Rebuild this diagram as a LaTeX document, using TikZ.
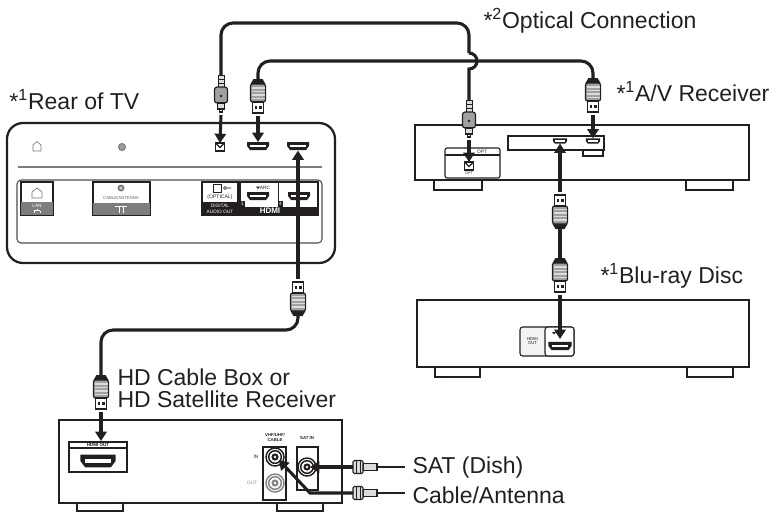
\documentclass[tikz,border=0pt]{standalone}
\usepackage{fontspec}
\setmainfont{Liberation Sans}
\usetikzlibrary{arrows.meta,calc}

\definecolor{ink}{RGB}{35,31,32}
\definecolor{plugfill}{RGB}{160,160,160}
\definecolor{pluglight}{RGB}{220,220,220}
\definecolor{panelgray}{RGB}{125,125,125}

\tikzset{every picture/.style={line width=0.75pt}}
\tikzset{
  flipy/.style={yscale=-1},
  cable/.style={draw=ink, line width=2.3pt},
  plugarrow/.style={draw=ink, line width=2.3pt, -{Triangle[length=7pt,width=8.5pt]}},
  unitbox/.style={draw=ink, line width=1.7pt, fill=white},
  thinbox/.style={draw=ink, line width=0.8pt},
  biglabel/.style={font=\fontsize{17.25}{20}\selectfont, anchor=base west, inner sep=0pt, text=ink},
  tinylabel/.style={font=\fontsize{3.6}{4}\selectfont, inner sep=0pt, text=ink},
  % plug with its tip towards +y, origin at the cable end
  hdmiplug/.pic={
    \fill[ink] (-4.5,0) -- (4.5,0) -- (7.5,5) -- (-7.5,5) -- cycle;
    \draw[ink, line width=0.9pt, fill=plugfill, rounded corners=1.5] (-7.5,5) rectangle (7.5,23);
    \foreach \yy in {9,12.5,16,19.5}
      \draw[pluglight, line width=0.9pt] (-6.5,\yy) -- (6.5,\yy);
    \draw[ink, line width=0.9pt, fill=white] (-5.5,23) rectangle (5.5,34);
    \fill[ink] (-3.5,27) rectangle (-1,30);
    \fill[ink] (1,27) rectangle (3.5,30);
  },
  optplug/.pic={
    \draw[ink, line width=0.7pt, fill=pluglight] (-3,0) rectangle (3,12);
    \draw[ink, line width=0.5pt] (-3,4) -- (3,4) (-3,8) -- (3,8);
    \draw[ink, line width=0.9pt, fill=plugfill, rounded corners=2] (-6.5,12) rectangle (6.5,28);
    \fill[ink] (0,21) circle (1.3);
    \draw[ink, line width=0.8pt, fill=pluglight] (-3.5,28) rectangle (3.5,34);
    \draw[ink, line width=0.8pt, fill=white] (-1.8,34) rectangle (1.8,37);
  },
  % coax plug pointing to -x, origin at the cable end
  coaxplug/.pic={
    \draw[ink, line width=0.8pt, fill=pluglight] (-14,-3.5) rectangle (0,3.5);
    \draw[ink, line width=0.8pt, fill=pluglight, rounded corners=1] (-24,-6.5) rectangle (-14,6.5);
    \draw[ink, line width=0.5pt] (-21,-6.5) -- (-21,6.5) (-17,-6.5) -- (-17,6.5);
  },
  hdmiport/.pic={
    \fill[ink] (-11,-4) -- (11,-4) -- (11,0) -- (8,4) -- (-8,4) -- (-11,0) -- cycle;
    \fill[white] (-8,-1) rectangle (8,1);
  },
  optport/.pic={
    \draw[ink, line width=0.9pt, fill=white] (-4.5,-4) rectangle (4.5,4);
    \draw[ink, line width=0.9pt] (-4.5,-4) -- (0,0.5) -- (4.5,-4);
  },
  coaxport/.pic={
    \draw[line width=1.1pt, fill=white] (0,0) circle (9);
    \draw[line width=1.1pt] (0,0) circle (6.3);
    \fill (0,0) circle (3.6);
    \fill[white] (0,0) circle (1.3);
  }
}

\begin{document}
\begin{tikzpicture}[x=0.75pt,y=0.75pt,yscale=-1,xscale=1]
\path[use as bounding box] (0,0) rectangle (777,512);

%Shape: TV [id:tv]
\draw[unitbox, rounded corners=12] (7,123) rectangle (335,263);
\draw[panelgray, line width=2pt] (18,167) -- (322,167);
\draw[thinbox, draw=ink!80, rounded corners=3] (17,180) rectangle (322,243);
% top row of the TV
\draw[ink!60, line width=0.5pt] (33,151) -- (33,145) -- (37,141.5) -- (41,145) -- (41,151) -- cycle;
\draw[fill=ink!45, draw=ink!60] (122,147) circle (3.5);
\pic[flipy] at (220,147) {optport};
\pic[flipy] at (258,146) {hdmiport};
\pic[flipy] at (298,146) {hdmiport};
% LAN
\draw[thinbox, fill=white] (21,182) rectangle (53,215);
\fill[panelgray] (21.4,202) rectangle (52.6,214.6);
\draw[ink!60, line width=0.5pt] (32,198) -- (32,192) -- (37,188) -- (42,192) -- (42,198) -- cycle;
\node[tinylabel, text=white] (lanlbl) at (37,205.5) {LAN};
\draw[white, line width=0.4pt] (37,208.5) -- (37,210.5) (34,210.5) -- (40,210.5) (34,210.5) -- (34,213) (40,210.5) -- (40,213);
% CABLE/ANTENNA
\draw[thinbox, fill=white] (93,182) rectangle (150,215);
\fill[panelgray] (93.4,203) rectangle (149.6,214.6);
\draw[fill=ink!50, draw=ink!70, line width=0.5pt] (121,188) circle (3);
\fill[white] (121,188) circle (1);
\node[tinylabel, text=ink!70, font=\fontsize{3.2}{4}\selectfont] (catvlbl) at (121,197.5) {CABLE/ANTENNA};
\draw[white, line width=0.6pt] (115,206.5) -- (127,206.5) (119,206.5) -- (119,213) (123,206.5) -- (123,213);
% DIGITAL AUDIO OUT
\draw[thinbox, fill=white] (202,182) rectangle (238,215);
\fill[ink] (202,202) rectangle (238,215);
\draw[ink, line width=0.6pt] (213,184) rectangle (221,192);
\draw[ink, line width=0.4pt] (225,188) circle (1.6) (226.6,188) -- (231,188);
\node[tinylabel, font=\fontsize{3.8}{4}\selectfont] (optlbl) at (220,197) {(OPTICAL)};
\node[tinylabel, text=white, font=\fontsize{3.6}{4}\selectfont] (diglbl) at (220,206) {DIGITAL};
\node[tinylabel, text=white, font=\fontsize{3.6}{4}\selectfont] (audlbl) at (220,211.5) {AUDIO OUT};
% HDMI
\draw[thinbox, fill=white] (240,182) rectangle (318,215);
\fill[ink] (240,207) rectangle (318,215);
\draw[ink, line width=0.6pt] (278,182) -- (278,207);
\fill[ink] (240,201) rectangle (245,207);
\fill[ink] (278,201) rectangle (283,207);
\node[tinylabel, text=white] (hdmione) at (242.5,204) {1};
\node[tinylabel, text=white] (hdmifour) at (280.5,204) {4};
\pic[flipy] at (258,196) {hdmiport};
\pic[flipy] at (299,196) {hdmiport};
\fill[ink] (256,186.5) -- (260,186.5) -- (258,189) -- cycle;
\node[tinylabel] (arclbl) at (265,187.6) {ARC};
\node[tinylabel, text=white, font=\bfseries\fontsize{6}{6}\selectfont] (hdmilogo) at (270,211.2) {HDMI};

%Shape: A/V Receiver [id:avr]
\draw[unitbox] (434,176) rectangle (482,190);
\draw[unitbox] (686,176) rectangle (733,190);
\draw[unitbox] (415,125) rectangle (749,180);
\draw[thinbox, rounded corners=1.5] (445,148) rectangle (500,178);
\draw[thinbox] (445,155) -- (500,155);
\node[tinylabel] (avropthead) at (482,151.5) {OPT};
\pic[flipy] at (469,166) {optport};
\node[tinylabel, font=\fontsize{2.8}{3}\selectfont] (avroptlbl) at (469,173.5) {OPT};
\draw[thinbox] (508,136) rectangle (604,150);
\pic[flipy, scale=0.65] at (560,141) {hdmiport};
\pic[flipy, scale=0.65] at (593,141) {hdmiport};
\draw[thinbox] (583,150) rectangle (603,156);

%Shape: Blu-ray Disc [id:bd]
\draw[unitbox] (435,363) rectangle (480,377);
\draw[unitbox] (687,363) rectangle (733,377);
\draw[unitbox] (417,300) rectangle (749,367);
\draw[thinbox, fill=ink!6, rounded corners=2] (520,327) rectangle (574,356);
\draw[thinbox, fill=white, rounded corners=2] (545,327) rectangle (574,356);
\node[tinylabel, align=center, font=\fontsize{3.2}{3.6}\selectfont] (bdhdmilbl) at (532.5,341) {HDMI\\OUT};
\fill[ink] (552,332) -- (556,332) -- (554,334.5) -- cycle;
\pic[flipy, scale=1.05] at (560,346) {hdmiport};

%Shape: Cable Box [id:cb]
\draw[unitbox] (77,499) rectangle (123,511);
\draw[unitbox] (277,499) rectangle (323,511);
\draw[unitbox] (59,420) rectangle (342,503);
\draw[thinbox] (69,442) rectangle (127,472);
\draw[thinbox] (69,448) -- (127,448);
\node[tinylabel, font=\bfseries\fontsize{3.4}{4}\selectfont] (cbhdmilbl) at (98,445.2) {HDMI OUT};
\pic[flipy, scale=1.6] at (98,461) {hdmiport};
\node[tinylabel, font=\bfseries\fontsize{3.2}{4}\selectfont] (vhflbl) at (275,434.5) {VHF/UHF/};
\node[tinylabel, font=\bfseries\fontsize{3.2}{4}\selectfont] (cablelbl) at (275,440.5) {CABLE};
\node[tinylabel, font=\bfseries\fontsize{3.2}{4}\selectfont] (satinlbl) at (307,438) {SAT IN};
\draw[thinbox] (263,447) rectangle (286,500);
\draw[thinbox] (297,447) rectangle (318,490);
\pic[ink] at (275,457) {coaxport};
\pic[ink!55] at (275,483) {coaxport};
\pic[ink] at (307,467) {coaxport};
\node[tinylabel] (inlbl) at (256,457) {IN};
\node[tinylabel, text=ink!50] (outlbl) at (252,483) {OUT};

% ports and plug ends
\coordinate (tvopt) at (220,143);
\coordinate (tvhdmiA) at (258,142);
\coordinate (tvhdmiB) at (298,150.5);
\coordinate (avropt) at (469,162);
\coordinate (avrhdmiIn) at (593,138.4);
\coordinate (avrhdmiOut) at (560,143.6);
\coordinate (bdport) at (560,339);
\coordinate (cbport) at (101,441);
\coordinate (cbsat) at (310,467);
\coordinate (cbin) at (279,460);
\coordinate (hdmiA) at (258,79);
\coordinate (hdmiB) at (593,78);
\coordinate (hdmiTop) at (420,61);
\coordinate (optA) at (221,75);
\coordinate (optB) at (469,100);
\coordinate (optTop) at (469,23);
\coordinate (hop) at (469,61);
\coordinate (bdA) at (560,229);
\coordinate (bdB) at (560,258);
\coordinate (cbA) at (298,316);
\coordinate (cbB) at (101,375);
\coordinate (cbMid) at (200,330);
\coordinate (satplug) at (377,467);
\coordinate (antplug) at (377,493);

%Straight Lines: HDMI TV - A/V Receiver
\draw[cable, rounded corners=9] (hdmiA) |- (hdmiTop) -| (hdmiB);
\pic[flipy] at (hdmiA) {hdmiplug};
\pic[flipy] at (hdmiB) {hdmiplug};
\draw[plugarrow] ($(hdmiA)+(0,37)$) -- (tvhdmiA);
\draw[plugarrow] ($(hdmiB)+(0,37)$) -- (avrhdmiIn);

%Straight Lines: optical TV - A/V Receiver
\draw[cable, rounded corners=9] (optA) |- (optTop) -- ($(hop)+(0,-8)$);
\draw[cable] ($(hop)+(0,-8)$) arc[start angle=-90, end angle=90, radius=8] -- (optB);
\pic[flipy] at (optA) {optplug};
\pic[flipy] at (optB) {optplug};
\draw[plugarrow] ($(optA)+(0,40)$) -- (tvopt);
\draw[plugarrow] ($(optB)+(0,40)$) -- (avropt);

%Straight Lines: HDMI A/V Receiver - Blu-ray Disc
\draw[cable] (bdA) -- (bdB);
\pic[flipy, rotate=180] at (bdA) {hdmiplug};
\pic[flipy] at (bdB) {hdmiplug};
\draw[plugarrow] ($(bdA)+(0,-37)$) -- (avrhdmiOut);
\draw[plugarrow] ($(bdB)+(0,37)$) -- (bdport);

%Straight Lines: HDMI TV - Cable Box
\draw[cable, rounded corners=9] (cbA) |- (cbMid) -| (cbB);
\pic[flipy, rotate=180] at (cbA) {hdmiplug};
\pic[flipy] at (cbB) {hdmiplug};
\draw[plugarrow] ($(cbA)+(0,-37)$) -- (tvhdmiB);
\draw[plugarrow] ($(cbB)+(0,37)$) -- (cbport);

%Straight Lines: SAT and Cable/Antenna
\draw[cable, line width=1.8pt] (satplug) -- ++(28,0);
\draw[cable, line width=1.8pt] (antplug) -- ++(28,0);
\pic at (satplug) {coaxplug};
\pic at (antplug) {coaxplug};
\draw[plugarrow] ($(satplug)+(-24,0)$) -- (cbsat);
\draw[plugarrow] ($(antplug)+(-24,0)$) -- (310,493) -- (cbin);

% Text Node
\node[biglabel] (tvlabel) at (9,109) {*\textsuperscript{1}Rear of TV};
% Text Node
\node[biglabel] (optlabel) at (483,28) {*\textsuperscript{2}Optical Connection};
% Text Node
\node[biglabel] (avrlabel) at (616,101) {*\textsuperscript{1}A/V Receiver};
% Text Node
\node[biglabel] (bdlabel) at (600,283) {*\textsuperscript{1}Blu-ray Disc};
% Text Node
\node[biglabel] (cblabel) at (117,385) {HD Cable Box or};
\node[biglabel] (cblabeltwo) at (117,407) {HD Satellite Receiver};
% Text Node
\node[biglabel] (satlabel) at (412,473) {SAT (Dish)};
\node[biglabel] (antlabel) at (412,503) {Cable/Antenna};

\end{tikzpicture}
\end{document}
